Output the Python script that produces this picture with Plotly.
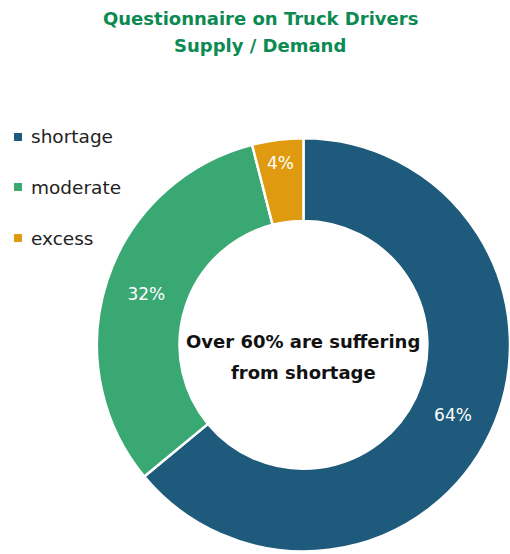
import plotly.graph_objects as go

categories = ["shortage", "moderate", "excess"]
values = [64, 32, 4]
colors = ["#1e5a7b", "#3aa872", "#e09a10"]
title_lines = ["Questionnaire on Truck Drivers", "Supply / Demand"]
center_lines = ["Over 60% are suffering", "from shortage"]

FONT = "DejaVu Sans"

fig = go.Figure()
fig.add_trace(go.Pie(
    labels=categories,
    values=values,
    hole=0.6,
    sort=False,
    direction="clockwise",
    rotation=0,
    marker=dict(colors=colors, line=dict(color="white", width=2.5)),
    texttemplate="%{percent:.0%}",
    textposition="inside",
    insidetextorientation="horizontal",
    textfont=dict(family=FONT, size=17, color="white"),
    domain=dict(x=[0.19, 1.0], y=[0.004, 0.751]),
    showlegend=False,
    hoverinfo="label+percent",
))

annotations = []
for line, ty in zip(title_lines, [18, 46]):
    annotations.append(dict(text="<b>" + line + "</b>", x=0.51, y=1 - ty / 554,
                            xref="paper", yref="paper", showarrow=False,
                            xanchor="center", yanchor="middle",
                            font=dict(family=FONT, size=18, color="#0b8a52")))
for line, ty in zip(center_lines, [341, 372]):
    annotations.append(dict(text="<b>" + line + "</b>", x=303 / 510, y=1 - ty / 554,
                            xref="paper", yref="paper", showarrow=False,
                            xanchor="center", yanchor="middle",
                            font=dict(family=FONT, size=18, color="#111111")))
shapes = []
legend_y = [137, 187, 238]
for name, col, ly in zip(categories, colors, legend_y):
    annotations.append(dict(text=name, x=29 / 510, y=1 - ly / 554, xref="paper", yref="paper",
                            showarrow=False, xanchor="left", yanchor="middle",
                            font=dict(family=FONT, size=18.5, color="#222222")))
    shapes.append(dict(type="rect", xref="paper", yref="paper",
                       x0=14 / 510, x1=22 / 510, y0=1 - (ly + 4) / 554, y1=1 - (ly - 4) / 554,
                       fillcolor=col, line=dict(width=0)))

fig.update_layout(
    width=510, height=554,
    margin=dict(l=0, r=0, t=0, b=0),
    paper_bgcolor="white", plot_bgcolor="white",
    annotations=annotations, shapes=shapes,
    showlegend=False,
)
fig.write_html("out.html", config={"displayModeBar": False},
               post_script="document.body.style.margin='0';document.body.style.overflow='hidden';")
